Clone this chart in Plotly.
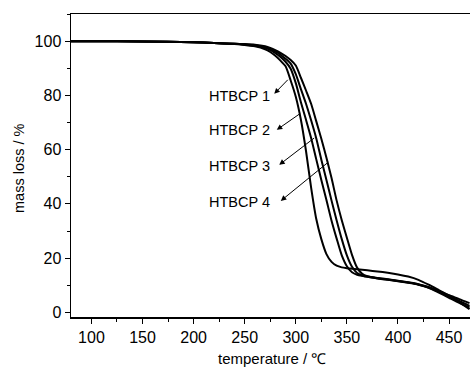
import plotly.graph_objects as go

temperature = [80, 100, 150, 200, 220, 240, 250, 260, 270, 275, 280, 285, 290, 295, 300,
               305, 310, 315, 320, 325, 330, 335, 340, 345, 350, 355, 360, 365, 370,
               380, 390, 400, 410, 420, 430, 440, 450, 460, 470]

htbcp1 = [100, 100, 99.9, 99.6, 99.3, 98.9, 98.6, 98.1, 97.0, 96.0, 94.6, 92.8, 90.7, 85.5, 79.5,
          71.0, 59.5, 46.0, 34.5, 27.0, 21.5, 18.6, 17.2, 16.6, 16.3, 16.1, 15.9, 15.7, 15.5,
          15.1, 14.6, 14.0, 13.2, 12.0, 10.2, 8.2, 6.2, 3.8, 1.2]
htbcp2 = [100, 100, 99.9, 99.6, 99.3, 99.0, 98.7, 98.3, 97.5, 96.7, 95.6, 94.2, 92.4, 89.8, 84.5,
          77.5, 71.0, 64.3, 56.5, 48.8, 41.4, 33.8, 27.2, 21.0, 17.0, 14.8, 13.9, 13.5, 13.2,
          12.7, 12.2, 11.7, 11.1, 10.4, 9.4, 7.9, 6.3, 4.9, 3.4]
htbcp3 = [100, 100, 99.9, 99.6, 99.3, 99.0, 98.8, 98.5, 97.8, 97.1, 96.2, 95.0, 93.5, 91.7, 87.8,
          82.3, 76.9, 70.8, 64.2, 56.3, 48.8, 41.2, 33.9, 27.0, 21.0, 16.8, 14.5, 13.6, 13.1,
          12.5, 12.0, 11.5, 10.9, 10.2, 9.2, 7.6, 5.9, 4.2, 2.4]
htbcp4 = [100, 100, 99.9, 99.6, 99.3, 99.0, 98.9, 98.7, 98.1, 97.5, 96.7, 95.7, 94.5, 93.0, 91.0,
          86.5, 81.8, 76.9, 70.5, 64.0, 57.0, 49.5, 41.2, 34.0, 27.5, 21.2, 16.5, 14.2, 13.3,
          12.6, 12.1, 11.6, 11.0, 10.3, 9.1, 7.3, 5.4, 3.5, 1.8]

series_names = ["HTBCP 1", "HTBCP 2", "HTBCP 3", "HTBCP 4"]
series_values = [htbcp1, htbcp2, htbcp3, htbcp4]

x_ticks = [100, 150, 200, 250, 300, 350, 400, 450]
y_ticks = [0, 20, 40, 60, 80, 100]

FONT = "Liberation Sans, Arial, sans-serif"

fig = go.Figure()
for name, vals in zip(series_names, series_values):
    fig.add_trace(go.Scatter(x=temperature, y=vals, mode="lines", name=name,
                             line=dict(color="black", width=2, shape="spline", smoothing=0.6),
                             showlegend=False, hoverinfo="skip"))

# label positions (data coords): text centre, arrow head, arrow tail
label_pos = [(245, 79.8, 278.9, 80.6, 293.6, 86.3),
             (245, 67.3, 281.4, 67.3, 305.8, 73.7),
             (245, 54.0, 283.8, 54.4, 319.5, 64.7),
             (245, 40.7, 285.3, 41.1, 333.2, 55.8)]

for name, (tx, ty, hx, hy, ax, ay) in zip(series_names, label_pos):
    fig.add_annotation(x=tx, y=ty, text=name, showarrow=False, xref="x", yref="y",
                       xanchor="center", yanchor="middle",
                       font=dict(family=FONT, size=14.5, color="black"))
    fig.add_annotation(x=hx, y=hy, ax=ax, ay=ay, axref="x", ayref="y", xref="x", yref="y",
                       text="", showarrow=True, arrowhead=2, arrowsize=1.1, arrowwidth=1,
                       arrowcolor="black", standoff=0, startstandoff=0)

PW, PH = 399, 303
fig.add_annotation(text="temperature / ℃", xref="paper", yref="paper", x=(271.5 - 71) / PW,
                   y=-(358 - 317) / PH, xanchor="center", yanchor="middle", showarrow=False,
                   font=dict(family=FONT, size=15, color="black"))
fig.add_annotation(text="mass loss / %", xref="paper", yref="paper", x=-(71 - 19) / PW,
                   y=(317 - 168) / PH, xanchor="center", yanchor="middle", showarrow=False,
                   textangle=-90, font=dict(family=FONT, size=14.5, color="black"))

fig.update_layout(
    width=470, height=367,
    margin=dict(l=71, r=0, t=14, b=50),
    paper_bgcolor="white", plot_bgcolor="white",
    font=dict(family=FONT, size=16, color="black"),
    xaxis=dict(range=[80, 470.5], tickvals=x_ticks, ticks="outside", ticklen=5, tickwidth=1,
               tickcolor="black", showline=True, linecolor="black", linewidth=1.5, mirror=True,
               showgrid=False, zeroline=False,
               minor=dict(ticks="outside", ticklen=3, dtick=25, tick0=75, tickcolor="black", showgrid=False),
               tickfont=dict(family=FONT, size=16)),
    yaxis=dict(range=[-1.7, 110], tickvals=y_ticks, ticks="outside", ticklen=5, tickwidth=1,
               tickcolor="black", showline=True, linecolor="black", linewidth=1.5,
               showgrid=False, zeroline=False,
               minor=dict(ticks="outside", ticklen=3, dtick=10, tick0=0, tickcolor="black", showgrid=False),
               tickfont=dict(family=FONT, size=16)),
)

fig.write_html("out.html", config={"displayModeBar": False, "staticPlot": True},
               post_script="document.body.style.margin='0';document.body.style.overflow='hidden';")
